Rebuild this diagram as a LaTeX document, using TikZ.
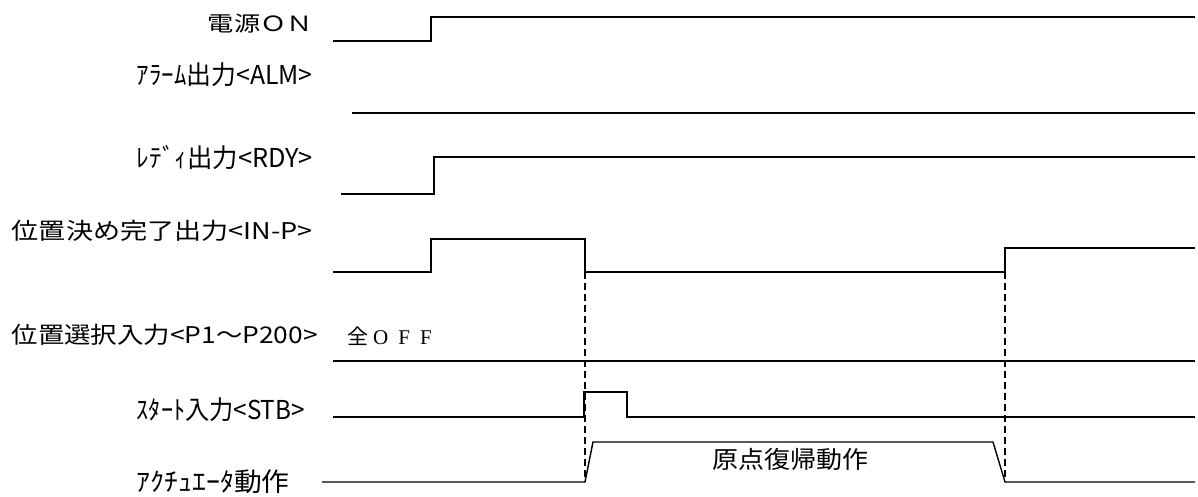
\documentclass[tikz,border=0pt]{standalone}
\usepackage{fontspec}
\usepackage{graphicx}
\newfontfamily\jpfont{Noto Sans CJK JP}
\newfontfamily\serfont{Liberation Serif}
\newcommand{\fitlab}[2]{\resizebox{#1}{\height}{#2}}
\tikzset{
    sig/.style={line width=1.4pt, line join=miter},
    siglabel/.style={anchor=east, inner sep=0pt, font=\jpfont\fontsize{#1}{#1}\selectfont},
    guide/.style={line width=1.3pt, dash pattern=on 7pt off 4pt},
}

\begin{document}
\begin{tikzpicture}[x=1pt, y=-1pt]
    \useasboundingbox (0,0) rectangle (1198,497);

    % Signal names
    \foreach \n/\x/\y/\s/\w/\lab in {pwr/313/24/21/105pt/電源ＯＮ,
                                     alm/313/75/26/176pt/ｱﾗｰﾑ出力<ALM>,
                                     rdy/313/158/26/176pt/ﾚﾃﾞｨ出力<RDY>,
                                     inp/313/231/23/301pt/位置決め完了出力<IN-P>,
                                     sel/318/335/23/306pt/位置選択入力<P1～P200>,
                                     stb/305/410/26/168pt/ｽﾀｰﾄ入力<STB>,
                                     act/290/482/26/153pt/ｱｸﾁｭｴｰﾀ動作} {
        \node[siglabel=\s] (lab-\n) at (\x, \y) {\fitlab{\w}{\lab}};
    }
    \node[anchor=west, inner sep=0pt, font=\fontsize{21}{23}\selectfont] (alloff) at (347, 336)
        {{\jpfont\fontsize{21}{23}\selectfont 全}\hspace{5pt}\serfont O\hspace{10pt}F\hspace{10pt}F};

    % Waveforms
    \draw[sig] (333, 41) -- (431, 41) -- (431, 17) -- (1195, 17);
    \draw[sig] (352, 113) -- (1195, 113);
    \draw[sig] (341, 194) -- (434, 194) -- (434, 157) -- (1195, 157);
    \draw[sig] (333, 272) -- (431, 272) -- (431, 239) -- (585, 239)
        -- coordinate[pos=1] (inp-off) (585, 272) -- (1005, 272)
        coordinate (inp-on) -- (1005, 248) -- (1195, 248);
    \draw[sig] (333, 361) -- (1195, 361);
    \draw[sig] (333, 417) -- (584, 417) -- (584, 392) -- (627, 392) -- (627, 417) -- (1195, 417);
    \draw[sig] (322, 482) -- (585, 482) coordinate (act-start) -- (593, 442) -- (993, 442)
        -- (1005, 482) coordinate (act-end) -- (1195, 482);

    % Homing
    \node[font=\jpfont\fontsize{24}{26}\selectfont, inner sep=0pt] (homing) at (790, 459)
        {\fitlab{156pt}{原点復帰動作}};

    % Timing guides
    \draw[guide] (inp-off) -- (act-start);
    \draw[guide] (inp-on) -- (act-end);
\end{tikzpicture}
\end{document}
